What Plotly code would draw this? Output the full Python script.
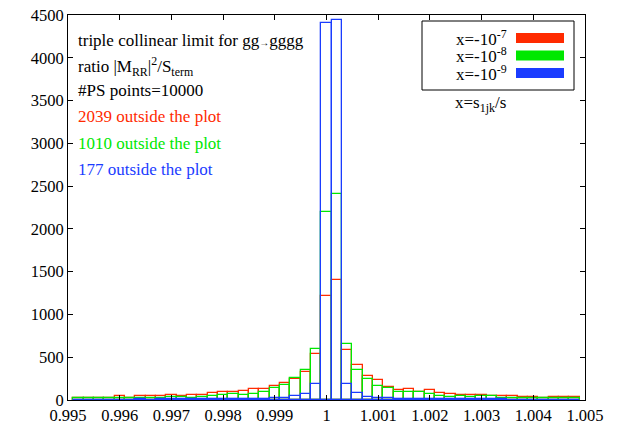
import plotly.graph_objects as go

# Histogram bins (centres), width 0.0002
bin_width = 0.0002
bin_centers = [round(0.9952 + bin_width * i, 4) for i in range(49)]

# Entries per bin for the three values of x = s_1jk/s
counts_1e7 = [25, 27, 28, 27, 42, 22, 50, 42, 50, 64, 48, 53, 64, 78, 92, 88, 103,
              133, 131, 166, 199, 244, 322, 536, 1213, 1402, 589, 411, 285, 236, 156,
              121, 129, 94, 119, 82, 74, 59, 59, 55, 51, 43, 47, 31, 35, 23, 35, 31, 31]
counts_1e8 = [20, 22, 25, 22, 25, 27, 20, 22, 23, 35, 30, 28, 35, 45, 62, 70, 55,
              74, 99, 135, 172, 252, 349, 595, 2194, 2405, 657, 355, 250, 166, 135,
              98, 88, 90, 66, 51, 39, 43, 39, 43, 47, 20, 27, 27, 23, 20, 23, 23, 23]
counts_1e9 = [4, 4, 5, 4, 5, 4, 6, 5, 7, 8, 8, 10, 9, 10, 12, 14, 12,
              16, 14, 20, 27, 41, 72, 191, 4408, 4443, 191, 86, 39, 25, 21,
              14, 12, 10, 12, 9, 8, 8, 7, 7, 6, 6, 5, 5, 4, 4, 4, 3, 3]

series_names = ["x=-10<sup>-7</sup>", "x=-10<sup>-8</sup>", "x=-10<sup>-9</sup>"]
series_colors = ["#ff2a00", "#00e800", "#1a3cff"]
outside_counts = [2039, 1010, 177]

x_tick_vals = [0.995, 0.996, 0.997, 0.998, 0.999, 1.0, 1.001, 1.002, 1.003, 1.004, 1.005]
x_tick_text = ["0.995", "0.996", "0.997", "0.998", "0.999", "1",
               "1.001", "1.002", "1.003", "1.004", "1.005"]
y_tick_vals = [0, 500, 1000, 1500, 2000, 2500, 3000, 3500, 4000, 4500]

W, H = 619, 427
ML, MR, MT, MB = 68, 34, 15, 27
FONT = "Liberation Serif"
TXT = 17


def px(x):
    return (x - ML) / (W - ML - MR)


def py(y):
    return (H - MB - y) / (H - MT - MB)


fig = go.Figure()
for name, vals, col in zip(series_names, [counts_1e7, counts_1e8, counts_1e9], series_colors):
    fig.add_trace(go.Bar(
        x=bin_centers, y=vals, width=bin_width, name=name,
        marker=dict(color="rgba(0,0,0,0)", line=dict(color=col, width=1.3)),
        showlegend=False,
    ))

annotations = []
shapes = []

# Description text, upper left
info_lines = [
    ("triple collinear limit for gg<span style=\"font-size:10px\">→</span>gggg", "black"),
    ("ratio |M<sub>RR</sub>|<sup>2</sup>/S<sub>term</sub>", "black"),
    ("#PS points=10000", "black"),
]
for n, col in zip(outside_counts, series_colors):
    info_lines.append((f"{n} outside the plot", col))
ys = [40, 66, 91, 117, 143, 169]
for (txt, col), yy in zip(info_lines, ys):
    annotations.append(dict(
        x=px(76), y=py(yy), xref="paper", yref="paper", text=txt, showarrow=False,
        xanchor="left", yanchor="middle", font=dict(family=FONT, size=TXT, color=col),
    ))

# Key box
shapes.append(dict(type="rect", xref="paper", yref="paper",
                   x0=px(422), x1=px(574), y0=py(90), y1=py(21),
                   line=dict(color="black", width=1), fillcolor="white"))
for i, (name, col) in enumerate(zip(series_names, series_colors)):
    yc = 38 + 17.5 * i
    annotations.append(dict(
        x=px(509), y=py(yc), xref="paper", yref="paper", text=name, showarrow=False,
        xanchor="right", yanchor="middle", font=dict(family=FONT, size=TXT, color="black"),
    ))
    shapes.append(dict(type="rect", xref="paper", yref="paper",
                       x0=px(516), x1=px(564), y0=py(yc + 5), y1=py(yc - 5),
                       line=dict(width=0), fillcolor=col))

annotations.append(dict(
    x=px(453), y=py(104), xref="paper", yref="paper", text="x=s<sub>1jk</sub>/s",
    showarrow=False, xanchor="left", yanchor="middle",
    font=dict(family=FONT, size=TXT, color="black"),
))

axis_common = dict(
    showline=True, linecolor="black", linewidth=1, mirror="ticks",
    ticks="inside", ticklen=5, tickcolor="black", tickwidth=1,
    showgrid=False, zeroline=False, automargin=False,
    tickfont=dict(family=FONT, size=16.5, color="black"),
)

fig.update_layout(
    width=W, height=H,
    margin=dict(l=ML, r=MR, t=MT, b=MB),
    paper_bgcolor="white", plot_bgcolor="white",
    barmode="overlay", bargap=0,
    xaxis=dict(range=[0.995, 1.005], tickvals=x_tick_vals, ticktext=x_tick_text, **axis_common),
    yaxis=dict(range=[0, 4500], tickvals=y_tick_vals, **axis_common),
    annotations=annotations, shapes=shapes,
)

fig.write_html("out.html")
